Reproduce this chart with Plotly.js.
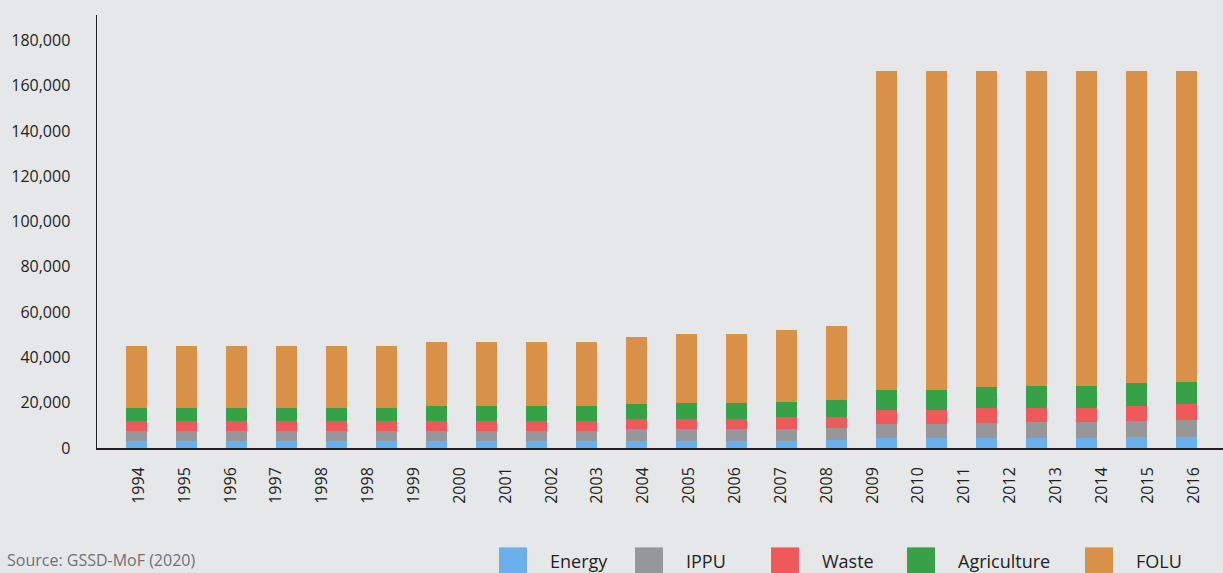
<!DOCTYPE html>
<html>
<head>
<meta charset="utf-8">
<script src="https://cdn.plot.ly/plotly-3.0.1.min.js"></script>
<style>
  html, body { margin: 0; padding: 0; background: #e6e7e9; }
  #chart { width: 1223px; height: 573px; }
</style>
</head>
<body>
<div id="chart"></div>
<script>
// ---- data ----
const tickLabels = ['1994','1995','1996','1997','1998','1998','1999','2000','2001','2002','2003','2004',
                    '2005','2006','2007','2008','2009','2010','2011','2012','2013','2014','2015','2016'];
const seriesNames = ['Energy', 'IPPU', 'Waste', 'Agriculture', 'FOLU'];

const energy      = [2900, 2900, 2900, 2900, 2900, 2900, 3300, 3300, 3300, 3300, 3300, 3300, 3300, 3300, 3750,
                     4600, 4600, 4600, 4600, 4600, 5050, 5050];
const ippu        = [4500, 4500, 4500, 4500, 4500, 4500, 4400, 4400, 4400, 4400, 5000, 5000, 5000, 5300, 5300,
                     6200, 6200, 6600, 7050, 7050, 7050, 7500];
const waste       = [4400, 4400, 4400, 4400, 4400, 4400, 4400, 4400, 4400, 4400, 4400, 4700, 4700, 5000, 4850,
                     6150, 6150, 6600, 6200, 6200, 6600, 7050];
const agriculture = [6000, 6000, 6000, 6000, 6000, 6000, 6600, 6600, 6600, 6600, 6900, 7050, 7050, 6900, 7500,
                     8800, 8800, 9250, 9700, 9700, 10150, 9750];
const folu        = [27400, 27400, 27400, 27400, 27400, 27400, 28250, 28250, 28250, 28250, 29550, 30400, 30400, 31700, 32600,
                     140650, 140650, 139350, 138850, 138850, 137550, 137050];

const seriesValues = [energy, ippu, waste, agriculture, folu];

// ---- styles ----
const seriesColors = ['#6ab0ec', '#96979b', '#f0595a', '#36a147', '#d9914a'];
const BG = '#e6e7e9';
const INK = '#231f20';
const FONT = 'Open Sans, Lato, sans-serif';

// plot-area geometry (pixels)
const W = 1223, H = 573;
const M = { l: 97, r: 0, t: 15, b: 124.5 };
const plotW = W - M.l - M.r, plotH = H - M.t - M.b;
const px2x = p => (p - M.l) / plotW;
const px2y = p => (H - M.b - p) / plotH;

const barIdx = energy.map((_, i) => i);

const traces = seriesNames.map((name, k) => ({
  type: 'bar',
  name: name,
  x: barIdx,
  y: seriesValues[k],
  width: 0.42,
  marker: { color: seriesColors[k], line: { width: 0 } },
  showlegend: false,
  hoverinfo: 'name+y'
}));

// invisible trace carrying the (offset) tick labels axis
traces.push({
  type: 'scatter', mode: 'markers', x: tickLabels.map((_, j) => j), y: tickLabels.map(() => 0),
  xaxis: 'x2', yaxis: 'y', marker: { opacity: 0 }, showlegend: false, hoverinfo: 'skip'
});

// manual legend (big swatches)
const legendSwatchX = [499, 635, 771, 907, 1085];
const swatchW = 28, swatchTop = 548, swatchBottom = 576, textGap = 21, legendTextY = 562;
const shapes = seriesNames.map((n, k) => ({
  type: 'rect', xref: 'paper', yref: 'paper', layer: 'above',
  x0: px2x(legendSwatchX[k]), x1: px2x(legendSwatchX[k] + swatchW),
  y0: px2y(swatchBottom), y1: px2y(swatchTop),
  fillcolor: seriesColors[k], line: { width: 0 }
}));
const annotations = seriesNames.map((n, k) => ({
  xref: 'paper', yref: 'paper', x: px2x(legendSwatchX[k] + swatchW + textGap), y: px2y(legendTextY),
  xanchor: 'left', yanchor: 'middle', showarrow: false, text: n,
  font: { family: FONT, size: 18, color: INK }
}));
annotations.push({
  xref: 'paper', yref: 'paper', x: px2x(5), y: px2y(561), xanchor: 'left', yanchor: 'middle',
  showarrow: false, text: 'Source: GSSD-MoF (2020)',
  font: { family: FONT, size: 16, color: '#707174' }
});

const layout = {
  width: W, height: H,
  margin: M,
  paper_bgcolor: BG, plot_bgcolor: BG,
  barmode: 'stack',
  bargap: 0,
  showlegend: false,
  font: { family: FONT, color: INK },
  xaxis: {
    type: 'linear',
    range: [(M.l - 136.5) / 50, (W - M.r - 136.5) / 50],
    showticklabels: false, ticks: '', showgrid: false, zeroline: false,
    showline: true, linecolor: INK, linewidth: 1.5, fixedrange: true
  },
  xaxis2: {
    type: 'linear', overlaying: 'x', anchor: 'y', side: 'bottom',
    range: [(M.l - 138.6) / 45.86, (W - M.r - 138.6) / 45.86],
    tickmode: 'array', tickvals: tickLabels.map((_, j) => j), ticktext: tickLabels,
    tickangle: -90, ticks: '', ticklabelstandoff: 15,
    tickfont: { family: FONT, size: 16, color: INK },
    showgrid: false, zeroline: false, showline: false, fixedrange: true
  },
  yaxis: {
    range: [0, 191230],
    tick0: 0, dtick: 20000, tickformat: ',d',
    tickfont: { family: FONT, size: 16, color: INK },
    ticks: '', ticklabelstandoff: 22,
    showgrid: false, zeroline: false,
    showline: true, linecolor: INK, linewidth: 1.5, fixedrange: true
  },
  shapes: shapes,
  annotations: annotations
};

Plotly.newPlot('chart', traces, layout, { displayModeBar: false, staticPlot: true });
</script>
</body>
</html>
